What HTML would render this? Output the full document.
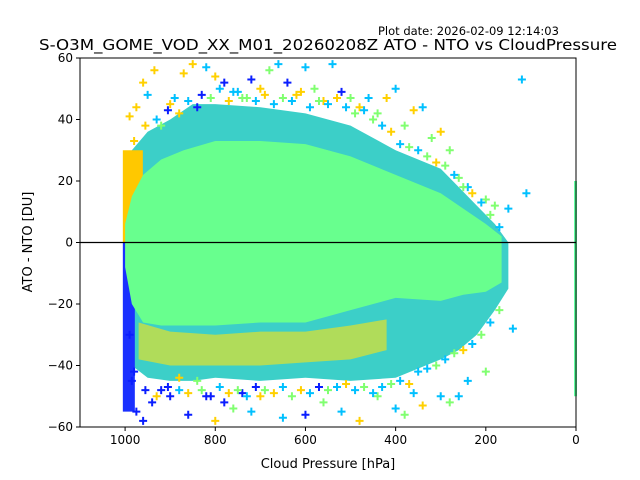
<!DOCTYPE html>
<html><head><meta charset="utf-8"><style>
body{margin:0;background:#fff;}
svg{display:block;font-family:"DejaVu Sans","Liberation Sans",sans-serif;}
</style></head><body>
<svg id="chart" width="640" height="480"></svg>
<script>
// ---- data ----
const xTicks = [1000, 800, 600, 400, 200, 0];
const yTicks = [-60, -40, -20, 0, 20, 40, 60];
// core (dense mint) envelope: pressure, upper, lower
const corePressure = [1000, 985, 960, 920, 870, 800, 700, 600, 500, 400, 300, 250, 200, 165];
const coreUpper    = [6, 15, 22, 27, 30, 33, 33, 32, 28, 22, 16, 11, 6, 2];
const coreLower    = [-8, -20, -26, -27, -27, -27, -26, -26, -22, -18, -19, -17, -16, -13];
// outer mixed envelope
const outerPressure = [1000, 985, 950, 900, 850, 800, 700, 600, 500, 400, 300, 260, 220, 180, 150];
const outerUpper    = [12, 30, 36, 40, 45, 45, 44, 42, 38, 30, 24, 18, 12, 6, 0];
const outerLower    = [-28, -40, -44, -45, -45, -44, -45, -44, -45, -44, -38, -35, -30, -22, -15];
// yellow-mixed lower band
const lowBandPressure = [970, 900, 800, 700, 600, 500, 420];
const lowBandUpper    = [-26, -29, -30, -29, -29, -27, -25];
const lowBandLower    = [-38, -40, -40, -40, -39, -38, -35];
// scattered outliers: pressure, value, color index
const outP = [990,975,960,950,935,920,900,890,870,850,840,820,800,780,760,740,720,700,680,660,640,620,600,580,560,540,520,500,480,460,440,420,400,380,360,340,320,300,280,260,240,200,180,150,120,110,990,985,975,960,940,920,900,880,860,840,820,800,780,760,740,720,700,650,600,560,520,480,440,400,380,360,340,300,280,260,240,200,140,
  980,955,930,905,880,860,830,810,790,770,750,730,710,690,670,650,630,610,590,570,550,530,510,490,470,450,430,410,390,370,350,330,310,290,270,250,230,210,190,170,
  980,955,930,905,880,860,830,810,790,770,750,730,710,690,670,650,630,610,590,570,550,530,510,490,470,450,430,410,390,370,350,330,310,290,270,250,230,210,190,170];
const outV = [41,44,52,48,56,38,45,47,55,58,44,57,54,52,49,47,53,50,56,58,52,48,57,50,46,58,49,47,44,47,42,47,50,38,43,44,34,36,30,21,18,14,12,11,53,16,-30,-45,-55,-58,-52,-48,-50,-44,-56,-45,-50,-58,-52,-54,-49,-55,-50,-57,-56,-52,-55,-58,-50,-54,-56,-49,-53,-50,-52,-50,-45,-42,-28,
  33,38,40,43,42,46,48,47,50,46,49,47,46,48,45,47,46,49,44,46,45,47,44,42,43,40,38,36,32,31,30,28,26,25,22,18,16,13,9,5,
  -42,-48,-50,-47,-48,-49,-48,-50,-47,-49,-48,-50,-47,-48,-49,-47,-50,-48,-49,-47,-48,-47,-46,-48,-47,-49,-47,-46,-45,-46,-42,-41,-40,-38,-36,-35,-33,-30,-26,-22];
const outC = [3,3,3,1,3,2,3,1,3,3,0,1,3,0,1,2,0,3,2,1,0,3,1,2,3,1,0,2,3,1,2,3,1,2,3,1,2,3,2,2,1,2,2,1,1,1,0,0,0,0,0,0,0,3,0,2,0,3,0,2,0,1,3,1,0,2,1,3,2,1,2,1,3,1,2,1,1,2,1,
  3,3,1,0,3,1,0,2,1,3,1,2,1,3,1,2,1,3,1,2,1,3,1,2,1,2,1,3,1,2,1,2,3,2,1,2,3,1,2,1,
  0,0,3,0,1,3,2,0,1,3,2,1,0,2,3,1,2,3,1,0,2,1,3,1,2,1,1,2,1,3,1,1,2,1,2,3,1,2,1,2];
const palette = ["#0a1eff", "#00c0ff", "#80ff70", "#ffd000"];

// ---- axes ----
const L=80, R=576, T=58, B=427;
const xs = p => R - p*(R-L)/1100;
const ys = v => 242.5 - v*(B-T)/120;
const svg = document.getElementById('chart');
const NS = "http://www.w3.org/2000/svg";
function mk(tag, attrs){const e=document.createElementNS(NS,tag);for(const k in attrs)e.setAttribute(k,attrs[k]);svg.appendChild(e);return e;}
function envPath(P,U,Lo){let d="";P.forEach((p,i)=>{d+=(i?"L":"M")+xs(p)+","+ys(U[i]);});for(let i=P.length-1;i>=0;i--)d+="L"+xs(P[i])+","+ys(Lo[i]);return d+"Z";}

let e;
e=mk('path',{d:envPath(outerPressure,outerUpper,outerLower),fill:"#3ccfc8"});


e=mk('path',{d:envPath(lowBandPressure,lowBandUpper,lowBandLower),fill:"#b0dc5a"});


// left-edge yellow and blue bands
e=mk('rect',{x:xs(1005),y:ys(30),width:20,height:ys(0)-ys(30),fill:"#ffc800"});


e=mk('rect',{x:xs(1005),y:ys(0),width:12,height:ys(-55)-ys(0),fill:"#1a30ff"});


e=mk('path',{d:envPath(corePressure,coreUpper,coreLower),fill:"#68ff8e"});


// p=0 strip
e=mk('rect',{x:xs(0)-2,y:ys(20),width:3,height:ys(-50)-ys(20),fill:"#60ffa0"});



outP.forEach((p,i)=>{
  const x=xs(p), y=ys(outV[i]);
  const m=mk('path',{d:`M${x-4},${y}H${x+4}M${x},${y-4}V${y+4}`,stroke:palette[outC[i]],"stroke-width":2});
  
  
});

// zero line
e=mk('line',{x1:L,x2:R,y1:ys(0),y2:ys(0),stroke:"#000","stroke-width":1.2});


// frame
e=mk('rect',{x:L,y:T,width:R-L,height:B-T,fill:"none",stroke:"#000","stroke-width":1});



xTicks.forEach(t=>{
  const x=xs(t);
  mk('line',{x1:x,x2:x,y1:B,y2:B+4,stroke:"#000"});
  const tx=mk('text',{x:x,y:B+17,"text-anchor":"middle","font-size":12});
  tx.textContent=t;
  
  
});
yTicks.forEach(t=>{
  const y=ys(t);
  mk('line',{x1:L-4,x2:L,y1:y,y2:y,stroke:"#000"});
  const tx=mk('text',{x:L-7,y:y+4,"text-anchor":"end","font-size":12});
  tx.textContent=t===0?"0":(t<0?"\u2212"+(-t):t);
  
  
});
e=mk('text',{x:328,y:468,"text-anchor":"middle","font-size":13});
e.textContent="Cloud Pressure [hPa]";


e=mk('text',{x:32,y:242,"text-anchor":"middle","font-size":13,transform:"rotate(-90 32 242)"});
e.textContent="ATO - NTO [DU]";


e=mk('text',{x:328,y:50,"text-anchor":"middle","font-size":15,textLength:578,lengthAdjust:"spacingAndGlyphs"});
e.textContent="S-O3M_GOME_VOD_XX_M01_20260208Z ATO - NTO vs CloudPressure";


e=mk('text',{x:378,y:35,"font-size":11.5});
e.textContent="Plot date: 2026-02-09 12:14:03";


</script>
</body></html>
